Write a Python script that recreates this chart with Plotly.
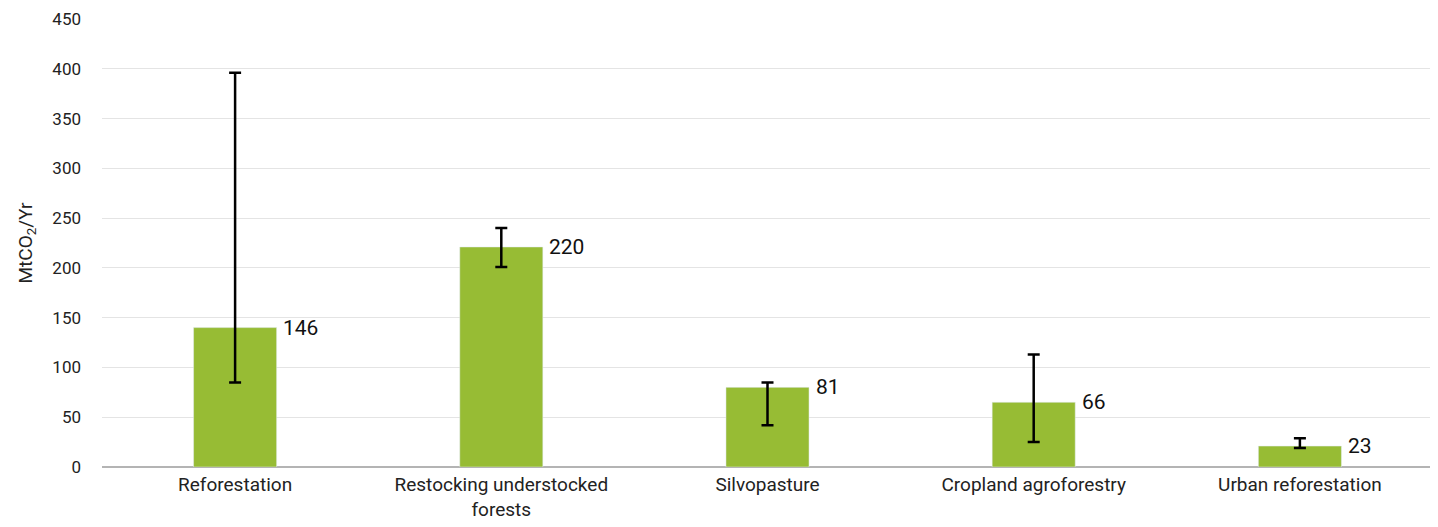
import plotly.graph_objects as go

categories = ["Reforestation", "Restocking understocked<br>forests", "Silvopasture",
              "Cropland agroforestry", "Urban reforestation"]
values = [140, 221, 80, 65, 21]
err_high = [396, 240, 85, 113, 29]
err_low = [85, 201, 42, 25, 19]
labels = ["146", "220", "81", "66", "23"]
y_ticks = [0, 50, 100, 150, 200, 250, 300, 350, 400, 450]

FONT = "Roboto, sans-serif"
BAR = "#97bc34"

fig = go.Figure()
fig.add_trace(go.Bar(
    x=categories, y=values, marker_color=BAR, width=0.312,
    error_y=dict(type="data", symmetric=False,
                 array=[h - v for h, v in zip(err_high, values)],
                 arrayminus=[v - l for v, l in zip(values, err_low)],
                 color="black", thickness=2.5, width=6),
    hoverinfo="skip",
))
for c, v, t in zip(categories, values, labels):
    fig.add_annotation(x=c, y=v, text=t, showarrow=False, xanchor="left",
                       yanchor="middle", xshift=46, font=dict(size=21, color="#111"))

fig.update_layout(
    width=1430, height=519, plot_bgcolor="white", paper_bgcolor="white",
    margin=dict(l=94, r=5, t=11, b=60, autoexpand=False),
    font=dict(family=FONT, color="#222"),
    showlegend=False,
    xaxis=dict(showgrid=False, showline=False, ticks="", tickfont=dict(size=19),
               ticklabelstandoff=4, automargin=False),
    yaxis=dict(range=[0, 450], tickvals=y_ticks, showgrid=True, gridcolor="#e4e4e4",
               gridwidth=1, zeroline=True, zerolinecolor="#b4b4b4", zerolinewidth=2,
               tickfont=dict(size=17), ticklabelstandoff=20, automargin=False,
               title=dict(text="MtCO<sub>2</sub>/Yr", font=dict(size=19), standoff=14)),
)
fig.write_html("out.html")
